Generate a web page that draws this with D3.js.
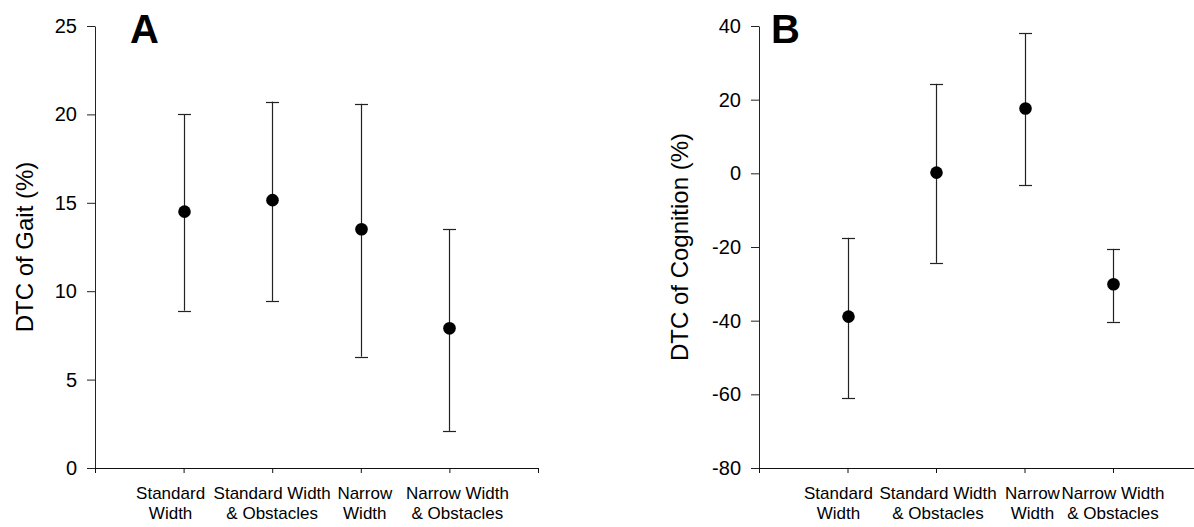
<!DOCTYPE html>
<html>
<head>
<meta charset="utf-8">
<script src="https://cdn.jsdelivr.net/npm/d3@7"></script>
<style>
  body { margin: 0; background: #fff; }
  text { font-family: "Liberation Sans", Arial, sans-serif; }
</style>
</head>
<body>
<script>
// categories shared by both panels (two lines each)
var categories = [
	['Standard', 'Width'],
	['Standard Width', '& Obstacles'],
	['Narrow', 'Width'],
	['Narrow Width', '& Obstacles']
];

// panel A: DTC of gait
var gaitMean  = [14.5, 15.15, 13.5, 7.9],
	gaitUpper = [20.0, 20.72, 20.6, 13.5],
	gaitLower = [8.9, 9.45, 6.3, 2.1],
	gaitTicks = [0, 5, 10, 15, 20, 25];

// panel B: DTC of cognition
var cogMean  = [-38.9, 0.2, 17.6, -30.1],
	cogUpper = [-17.5, 24.3, 38.0, -20.5],
	cogLower = [-61.0, -24.3, -3.3, -40.3],
	cogTicks = [-80, -60, -40, -20, 0, 20, 40];

var W = 1194, H = 527;

var svg = d3.select('body').append('svg')
	.attr('width', W)
	.attr('height', H);

// layout for each panel
var panels = [
	{ letter: 'A', title: 'DTC of Gait (%)', mean: gaitMean, upper: gaitUpper, lower: gaitLower,
	  ticks: gaitTicks, x0: 95, x1: 538, titleX: 33, letterX: 130,
	  labelShift: [-13, 0, 4, 8] },
	{ letter: 'B', title: 'DTC of Cognition (%)', mean: cogMean, upper: cogUpper, lower: cogLower,
	  ticks: cogTicks, x0: 759, x1: 1201.5, titleX: 688, letterX: 771,
	  labelShift: [-9, 2, 8, 0] }
];

var yTop = 26, yBot = 468;

panels.forEach(function(p) {
	var g = svg.append('g');

	// categories sit on 1..4 of a 0..5 axis
	var x = d3.scaleLinear().domain([0, 5]).range([p.x0, p.x1]);
	var y = d3.scaleLinear()
		.domain([d3.min(p.ticks), d3.max(p.ticks)])
		.range([yBot, yTop]);

	// y axis (plain hyphen for negatives, like the original)
	var ya = g.append('g')
		.attr('transform', 'translate(' + p.x0 + ',0)')
		.call(d3.axisLeft(y).tickValues(p.ticks).tickSize(8).tickSizeOuter(0).tickPadding(10)
			.tickFormat(function(d) { return String(d); }));
	ya.selectAll('text').attr('font-size', 20).attr('fill', '#000')
		.attr('font-family', '"Liberation Sans", Arial, sans-serif');
	ya.selectAll('line, path').attr('stroke', '#222');

	// x axis
	var xa = g.append('g')
		.attr('transform', 'translate(0,' + yBot + ')')
		.call(d3.axisBottom(x).tickValues([0, 1, 2, 3, 4, 5]).tickSize(5).tickSizeOuter(0).tickFormat(''));
	xa.selectAll('line, path').attr('stroke', '#111');

	// category labels, two lines
	categories.forEach(function(c, i) {
		var t = g.append('text')
			.attr('text-anchor', 'middle')
			.attr('font-size', 17)
			.attr('fill', '#000');
		c.forEach(function(line, j) {
			t.append('tspan')
				.attr('x', x(i + 1) + p.labelShift[i])
				.attr('y', yBot + 31 + j * 20)
				.text(line);
		});
	});

	// y axis title
	g.append('text')
		.attr('transform', 'translate(' + p.titleX + ',' + ((yTop + yBot) / 2) + ') rotate(-90)')
		.attr('text-anchor', 'middle')
		.attr('font-size', 24)
		.attr('fill', '#000')
		.text(p.title);

	// panel letter
	g.append('text')
		.attr('x', p.letterX)
		.attr('y', 43)
		.attr('font-size', 40)
		.attr('font-weight', 'bold')
		.attr('fill', '#000')
		.text(p.letter);

	// error bars
	var idx = d3.range(p.mean.length);
	g.selectAll('line.err').data(idx).enter().append('line')
		.attr('class', 'err')
		.attr('x1', function(i) { return Math.round(x(i + 1)) + 0.5; })
		.attr('x2', function(i) { return Math.round(x(i + 1)) + 0.5; })
		.attr('y1', function(i) { return y(p.upper[i]); })
		.attr('y2', function(i) { return y(p.lower[i]); })
		.attr('stroke', '#222')
		.attr('stroke-width', 1.2);

	['upper', 'lower'].forEach(function(key) {
		g.selectAll('line.cap-' + key).data(idx).enter().append('line')
			.attr('class', 'cap-' + key)
			.attr('x1', function(i) { return Math.round(x(i + 1)) - 6; })
			.attr('x2', function(i) { return Math.round(x(i + 1)) + 7; })
			.attr('y1', function(i) { return Math.round(y(p[key][i])) + 0.5; })
			.attr('y2', function(i) { return Math.round(y(p[key][i])) + 0.5; })
			.attr('stroke', '#222')
			.attr('stroke-width', 1.2);
	});

	// means
	g.selectAll('circle').data(idx).enter().append('circle')
		.attr('cx', function(i) { return Math.round(x(i + 1)) + 0.5; })
		.attr('cy', function(i) { return y(p.mean[i]); })
		.attr('r', 6.3)
		.attr('fill', '#000');
});
</script>
</body>
</html>
